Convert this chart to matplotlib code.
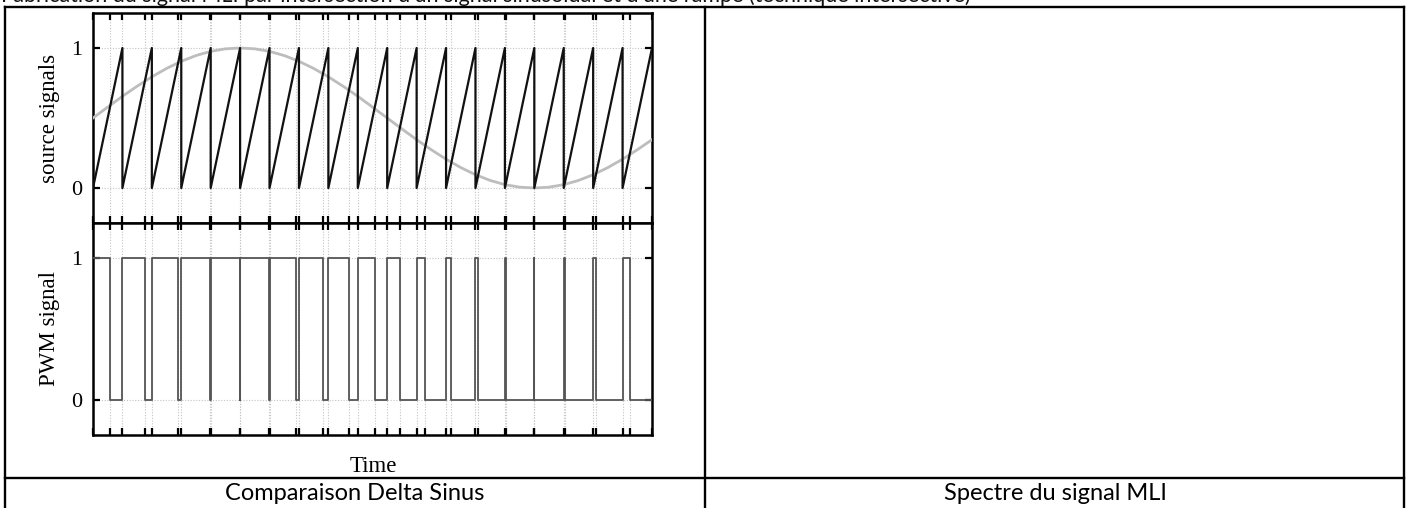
import numpy as np
import matplotlib
matplotlib.use("Agg")
import matplotlib.pyplot as plt

# ---------------- data ----------------
carrier_resets = [0, 1, 2, 3, 4, 5, 6, 7, 8, 9, 10, 11, 12, 13, 14, 15, 16, 17, 18, 19]
crossing_times = [0.593, 1.763, 2.894, 3.974, 5.000, 5.977, 6.912, 7.817, 8.699,
                  9.568, 10.432, 11.301, 12.182, 13.087, 14.023, 15.000, 16.026,
                  17.105, 18.237]
sine_values = [0.500, 0.578, 0.655, 0.727, 0.794, 0.854, 0.905, 0.946, 0.976, 0.994,
               1.000, 0.994, 0.976, 0.946, 0.905, 0.854, 0.794, 0.727, 0.655, 0.578,
               0.500, 0.422, 0.345, 0.273, 0.206, 0.146, 0.095, 0.054, 0.024, 0.006,
               0.000, 0.006, 0.024, 0.054, 0.095, 0.146, 0.206, 0.273, 0.345]
y_ticks = [0, 1]
y_tick_labels = ["0", "1"]
top_label = "source signals"
bottom_label = "PWM signal"
x_label = "Time"
caption_left = "Comparaison Delta Sinus"
caption_right = "Spectre du signal MLI"
header_text = ("Fabrication du signal MLI par intersection d'un signal sinusoïdal "
               "et d'une rampe (technique intersective)")

# ---------------- derived series ----------------
t_end = carrier_resets[-1]
sine_t = np.linspace(0, t_end, len(sine_values))

saw_x, saw_y = [], []
for k in carrier_resets[:-1]:
    saw_x += [k, k + 1]
    saw_y += [0, 1]

pwm_x, pwm_y = [], []
for k, tc in zip(carrier_resets[:-1], crossing_times):
    pwm_x += [k, k, tc, tc, k + 1]
    pwm_y += [0 if k > 0 else 1, 1, 1, 0, 0]

xticks = sorted(carrier_resets + crossing_times)

# ---------------- figure ----------------
W, H = 1411, 508
fig = plt.figure(figsize=(W / 100, H / 100), dpi=100)

bg = fig.add_axes([0, 0, 1, 1])
bg.set_xlim(0, W)
bg.set_ylim(H, 0)
bg.axis("off")

lw_tab = 1.7
for xs, ys in [([5, 1404], [7, 7]), ([5, 5], [7, H + 2]), ([705, 705], [7, H + 2]),
               ([1404, 1404], [7, H + 2]), ([5, 1404], [478, 478])]:
    bg.plot(xs, ys, color="black", lw=lw_tab, solid_capstyle="projecting")

cap_font = ["Lato", "DejaVu Sans"]
bg.text(1, 2.0, header_text, ha="left", va="baseline", fontsize=15.5, family=cap_font,
        color="#111111")
bg.text(355, 494, caption_left, ha="center", va="center", fontsize=17, family=cap_font)
bg.text(1055, 494, caption_right, ha="center", va="center", fontsize=17, family=cap_font)

serif = ["Liberation Serif", "DejaVu Serif"]
bg.text(50, 118, top_label, rotation=90, ha="center", va="center", fontsize=16.5, family=serif)
bg.text(50, 328, bottom_label, rotation=90, ha="center", va="center", fontsize=16.5, family=serif)
bg.text(373, 467, x_label, ha="center", va="center", fontsize=16.5, family=serif)


def px_axes(left, top, right, bottom):
    return fig.add_axes([left / W, 1 - bottom / H, (right - left) / W, (bottom - top) / H])


ax1 = px_axes(93, 13, 652, 223)
ax2 = px_axes(93, 223, 652, 435)

for ax in (ax1, ax2):
    ax.set_xlim(0, t_end)
    ax.set_ylim(-0.25, 1.25)
    ax.set_xticks(xticks)
    ax.set_xticklabels([])
    ax.set_yticks(y_ticks)
    ax.set_yticklabels(y_tick_labels, family=serif, fontsize=16)
    ax.tick_params(direction="in", length=5, width=1.6, top=True, right=True,
                   pad=8, color="black")
    ax.grid(True, color="#c4c4c4", linestyle=(0, (1, 1.5)), linewidth=0.8)
    ax.set_axisbelow(True)
    for s in ax.spines.values():
        s.set_linewidth(1.8)

ax1.plot(sine_t, sine_values, color="#bdbdbd", lw=2.0, zorder=3)
ax1.plot(saw_x, saw_y, color="#111111", lw=1.6, zorder=4)
ax2.plot(pwm_x, pwm_y, color="#555555", lw=1.3, zorder=3)

fig.savefig("out.png", dpi=100)
